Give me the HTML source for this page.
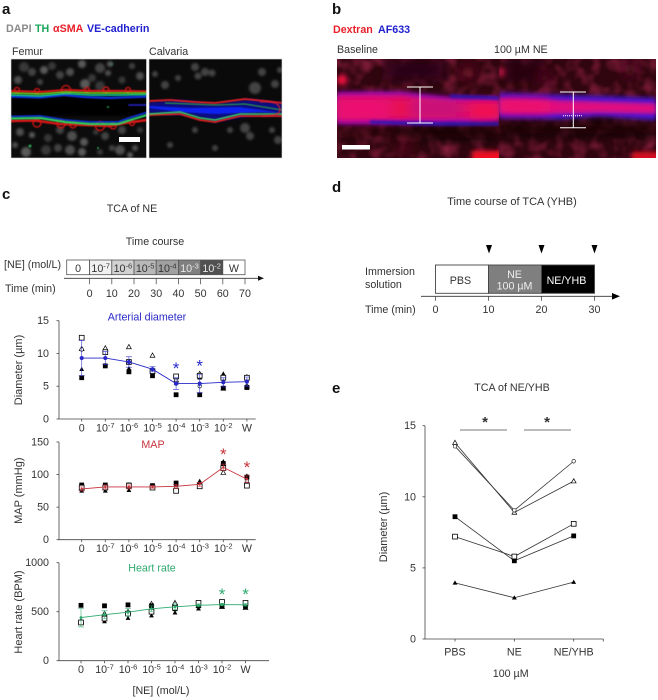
<!DOCTYPE html>
<html lang="en">
<head>
<meta charset="utf-8">
<title>TCA of NE figure</title>
<style>
html,body{margin:0;padding:0;background:#fff;width:658px;height:700px;overflow:hidden}
svg{display:block}
text{font-family:"Liberation Sans",sans-serif;fill:#333;font-size:10.7px}
.pl{font-weight:bold;font-size:15px;fill:#111}
.b{font-weight:bold}
</style>
</head>
<body>
<svg id="fig" xmlns="http://www.w3.org/2000/svg" width="658" height="700" viewBox="0 0 658 700">
<defs>
<filter id="b05" filterUnits="userSpaceOnUse" x="0" y="0" width="658" height="200"><feGaussianBlur stdDeviation="0.5"/></filter>
<filter id="b1" filterUnits="userSpaceOnUse" x="0" y="0" width="658" height="200"><feGaussianBlur stdDeviation="1.3"/></filter>
<filter id="b2" filterUnits="userSpaceOnUse" x="0" y="0" width="658" height="200"><feGaussianBlur stdDeviation="2.5"/></filter>
<filter id="b4" filterUnits="userSpaceOnUse" x="0" y="0" width="658" height="200"><feGaussianBlur stdDeviation="6"/></filter>
<filter id="mottle" filterUnits="userSpaceOnUse" x="337" y="59" width="319" height="99"><feTurbulence type="fractalNoise" baseFrequency="0.07" numOctaves="2" seed="4"/><feColorMatrix type="matrix" values="0 0 0 0 0.55  0 0 0 0 0.03  0 0 0 0 0.12  1.6 0 0 0 -0.65"/></filter>
<clipPath id="c1"><rect x="11" y="59" width="135.500" height="99"/></clipPath>
<clipPath id="c2"><rect x="149" y="59" width="133" height="99"/></clipPath>
<clipPath id="c3"><rect x="337" y="59" width="162" height="99"/></clipPath>
<clipPath id="c4"><rect x="499" y="59" width="157" height="99"/></clipPath>
</defs>

<!-- panel a -->
<text class="pl" x="2" y="14">a</text>
<text class="b" x="6" y="32" style="fill:#8a8a8a">DAPI</text>
<text class="b" x="35" y="32" style="fill:#1aa55a">TH</text>
<text class="b" x="53" y="32" style="fill:#e8202a">αSMA</text>
<text class="b" x="87" y="32" style="fill:#2020d0">VE-cadherin</text>
<text x="12" y="55">Femur</text>
<text x="149" y="55">Calvaria</text>

<g clip-path="url(#c1)">
<rect x="11" y="59" width="136" height="99" fill="#0c0c0c"/>
<g id="femurNuclei" filter="url(#b1)" fill="#626262"></g>
<rect x="11" y="97" width="136" height="19" fill="#050505" filter="url(#b1)"/>
<g fill="none" stroke="#d81818" stroke-width="1.300" filter="url(#b05)">
<circle cx="66" cy="90" r="4.500"/><circle cx="17" cy="90" r="2.500"/><circle cx="37" cy="91" r="2.500"/><circle cx="87" cy="90" r="2.500"/><circle cx="106" cy="90" r="3"/><circle cx="128" cy="90" r="2.500"/>
<circle cx="37" cy="123" r="4"/><circle cx="61" cy="124" r="4"/><circle cx="73" cy="125" r="3"/><circle cx="100" cy="126" r="4.500"/><circle cx="113" cy="126" r="3"/><circle cx="132" cy="123" r="2.500"/>
</g>
<g fill="none" stroke-linejoin="round" stroke-linecap="round">
<path d="M11 91 L40 92 L66 90 L90 91 L120 91 L147 91.500" stroke="#d81818" stroke-width="2.200" filter="url(#b05)"/>
<path d="M11 96.500 L40 97.500 L64 95 L85 97 L110 98 L147 96.500" stroke="#1030e0" stroke-width="2.200" filter="url(#b05)"/>
<path d="M11 95 L40 96 L66 93.500 L90 95 L120 95 L147 94.500" stroke="#18d8a0" stroke-width="1.500" filter="url(#b05)"/>
<path d="M11 93 L40 94 L66 92 L90 93 L120 93 L147 93" stroke="#70e020" stroke-width="1.400" filter="url(#b05)"/>
<path d="M11 121 L35 120.500 L60 124 L85 125 L110 126 L125 123 L147 120" stroke="#d81818" stroke-width="2.500" filter="url(#b05)"/>
<path d="M11 116.500 L40 116 L65 120 L90 122 L118 122 L132 117 L147 112.500" stroke="#1030e0" stroke-width="1.800" filter="url(#b05)"/>
<path d="M11 118.500 L40 118 L65 122 L90 124 L118 124 L132 119.500 L147 115" stroke="#30d060" stroke-width="2.200" filter="url(#b05)"/>
<path d="M129 105 L147 105" stroke="#1a1aa0" stroke-width="2" filter="url(#b05)"/>
</g>
<g fill="#2aa050" filter="url(#b05)"><circle cx="30" cy="146" r="1.500"/><circle cx="112" cy="64" r="0.800"/><circle cx="108" cy="107" r="1"/><circle cx="98" cy="148" r="1"/></g>
<rect x="119" y="137" width="21" height="5" fill="#fff"/>
</g>

<g clip-path="url(#c2)">
<rect x="149" y="59" width="133" height="99" fill="#0a0a0a"/>
<g id="calvariaNuclei" filter="url(#b1)" fill="#5c5c5c"></g>
<path d="M149 102 L180 100 L215 104 L250 99 L282 103 L282 115 L250 116 L215 122 L190 115 L149 114 Z" fill="#0c1080" filter="url(#b1)"/>
<path d="M149 106 L190 108 L240 107 L282 113 L260 112 L215 114 L180 112 L149 108 Z" fill="#1020f0" filter="url(#b05)"/>
<g fill="none" stroke-linejoin="round">
<path d="M149 101 L170 100 L195 102 L215 103 L245 99 L265 101 L282 103" stroke="#e82020" stroke-width="1.800" filter="url(#b05)"/>
<path d="M165 103 L190 104 L215 105 L245 104 L282 110" stroke="#30b040" stroke-width="1" filter="url(#b05)"/>
<path d="M149 115 L180 114 L200 120 L215 122 L240 116 L282 116" stroke="#e82020" stroke-width="1.800" filter="url(#b05)"/>
<path d="M149 114 L180 112 L200 118 L215 120 L240 114 L282 114" stroke="#40d060" stroke-width="1.500" filter="url(#b05)"/>
<path d="M260 102 Q280 100 280 110 Q280 116 262 116" stroke="#d02030" stroke-width="1.200" filter="url(#b05)"/>
</g>
</g>
<rect x="11" y="59" width="135.500" height="99" fill="none" stroke="#ddd" stroke-width="0.600"/>
<rect x="149" y="59" width="133" height="99" fill="none" stroke="#ddd" stroke-width="0.600"/>

<!-- panel b -->
<text class="pl" x="332" y="14">b</text>
<text class="b" x="333" y="33" style="fill:#e8202a">Dextran</text>
<text class="b" x="378" y="33" style="fill:#2020d0">AF633</text>
<text x="337" y="53">Baseline</text>
<text x="494" y="53">100 µM NE</text>

<g clip-path="url(#c3)">
<rect x="337" y="59" width="162" height="99" fill="#30050f"/>
<rect x="337" y="59" width="162" height="99" fill="#000" filter="url(#mottle)" opacity="0.7"/>
<g filter="url(#b4)">
<rect x="385" y="60" width="60" height="20" fill="#2a0412"/>
<rect x="400" y="126" width="99" height="12" fill="#0a0006"/>
<rect x="337" y="128" width="70" height="6" fill="#1a020c"/>
<circle cx="468" cy="72" r="7" fill="#6a0e24"/>
<circle cx="405" cy="150" r="5" fill="#6a0c20"/>
</g>
<circle cx="342" cy="80" r="5" fill="#f01040" filter="url(#b2)"/>
<rect x="472" y="151" width="32" height="12" fill="#f01020" filter="url(#b2)"/>
<path d="M337 92 L400 92 L450 97 L499 97 L499 122 L440 124 L400 124 L337 124 Z" fill="#8a10d0" filter="url(#b2)"/>
<path d="M337 95 L400 95 L450 100 L499 100 L499 119 L440 120 L400 120 L337 121 Z" fill="#d8106c" filter="url(#b2)"/>
<g filter="url(#b4)"><rect x="337" y="100" width="52" height="18" fill="#f01072"/><rect x="392" y="101" width="18" height="15" fill="#f01046"/><rect x="470" y="104" width="30" height="14" fill="#f8104c"/><rect x="410" y="103" width="50" height="10" fill="#c01480"/></g>
<path d="M370 122 L440 124 L499 124" stroke="#2a18b0" stroke-width="3" fill="none" filter="url(#b1)"/>
<path d="M450 96 L499 98" stroke="#2a18b0" stroke-width="3" fill="none" filter="url(#b1)"/>
</g>
<g clip-path="url(#c4)">
<rect x="499" y="59" width="157" height="99" fill="#30050f"/>
<rect x="499" y="59" width="157" height="99" fill="#000" filter="url(#mottle)" opacity="0.7"/>
<g filter="url(#b4)">
<rect x="505" y="60" width="40" height="22" fill="#260310"/>
<rect x="499" y="123" width="157" height="11" fill="#0a0006"/>
<circle cx="545" cy="78" r="6" fill="#5c0c26"/>
<circle cx="630" cy="70" r="7" fill="#5c0c26"/>
</g>
<circle cx="501" cy="72" r="4" fill="#b01040" filter="url(#b2)"/>
<rect x="632" y="152" width="30" height="10" fill="#d81020" filter="url(#b2)"/>
<path d="M499 93 L560 95 L656 98 L656 120 L600 116 L560 119 L499 118 Z" fill="#3c18e0" filter="url(#b2)"/>
<path d="M499 98 L560 100 L656 103 L656 114 L600 113 L560 114 L499 114 Z" fill="#e01080" filter="url(#b2)"/>
<rect x="500" y="100" width="50" height="12" fill="#f01068" filter="url(#b4)"/>
</g>
<g stroke="#fff" stroke-width="1" fill="none">
<path d="M407 87H433M420 87V123M407 123H433"/>
<path d="M560 92H586M573.300 92V127.700M560 127.700H586"/>
<path d="M563 115.700H583" stroke-dasharray="1 1"/>
</g>
<rect x="342" y="145" width="28" height="4.500" fill="#fff"/>

<!-- panel c fixed text -->
<text class="pl" x="2" y="199">c</text>
<text x="132" y="212" text-anchor="middle">TCA of NE</text>
<text x="155" y="245" text-anchor="middle">Time course</text>
<text x="4" y="268">[NE] (mol/L)</text>
<text x="5" y="292">Time (min)</text>
<g id="cTimeline"></g>
<g id="cCharts"></g>
<text x="161" y="694" text-anchor="middle">[NE] (mol/L)</text>

<!-- panel d -->
<text class="pl" x="332" y="192">d</text>
<text x="512" y="205" text-anchor="middle" style="font-size:11px">Time course of TCA (YHB)</text>
<text x="365" y="275">Immersion</text>
<text x="365" y="288">solution</text>
<text x="365" y="313">Time (min)</text>
<g id="dTimeline"></g>

<!-- panel e -->
<text class="pl" x="332" y="393">e</text>
<text x="512" y="391" text-anchor="middle">TCA of NE/YHB</text>
<g id="eChart"></g>
</svg>

<script>
/* ---------- panel c data ---------- */
var concCategories = ['0','10-7','10-6','10-5','10-4','10-3','10-2','W'];
var timeTicks = [0,10,20,30,40,50,60,70];
var diameterTicks = [0,5,10,15];
var mapTicks = [0,50,100,150];
var hrTicks = [0,500,1000];

var diameterOpenSquare = [12.4,10.2,8.7,7.3,6.5,6.6,6.3,6.3];
var diameterOpenTriangle = [10.7,10.8,11.0,9.7,5.9,6.9,4.7,5.0];
var diameterOpenCircle = [10.6,10.3,8.7,7.3,5.9,5.0,4.7,5.0];
var diameterFilledTriangle = [7.6,8.2,7.7,7.5,5.5,6.3,6.9,6.5];
var diameterFilledSquare = [6.3,8.1,7.2,6.6,3.7,3.7,4.7,4.8];
var diameterMean = [9.3,9.3,8.7,7.6,5.4,5.4,5.6,5.7];
var diameterSem = [2.7,1.0,0.8,0.4,0.9,1.4,0.7,0.7];
var diameterStars = [null,null,null,null,8.4,8.75,null,null];

var mapOpenSquare = [80,80,83,80,75,82,110,83];
var mapOpenTriangle = [80,80,83,82,80,82,103,88];
var mapOpenCircle = [80,80,82,80,80,83,112,90];
var mapFilledTriangle = [75,75,76,80,84,90,120,98];
var mapFilledSquare = [84,84,84,83,87,85,117,96];
var mapMean = [78,81,81,81,82,85,111,93];
var mapSem = [3,3,3,2,3,3,5,5];
var mapStars = [null,null,null,null,null,null,137.7,118];

var hrOpenSquare = [390,430,480,500,540,590,600,590];
var hrOpenTriangle = [400,480,500,580,590,560,550,540];
var hrOpenCircle = [400,440,490,560,580,580,560,550];
var hrFilledTriangle = [400,400,435,460,490,530,560,545];
var hrFilledSquare = [565,560,570,560,530,560,560,560];
var hrMean = [440,470,495,530,550,565,573,570];
var hrSem = [95,40,40,30,30,15,12,12];
var hrStars = [null,null,null,null,null,null,720,720];

/* ---------- panel c timeline data ---------- */
var doseLabels = ['0','10-7','10-6','10-5','10-4','10-3','10-2','W'];
var doseShades = ['#ffffff','#f0f0f0','#d2d2d2','#b8b8b8','#a0a0a0','#808080','#505050','#ffffff'];

/* ---------- panel d data ---------- */
var solutionStarts = [0,10,20];
var solutionEnds = [10,20,30];
var solutionFills = ['#ffffff','#7f7f7f','#000000'];
var immersionTicks = [0,10,20,30];
var measureTimes = [10,20,30];

/* ---------- panel e data ---------- */
var yhbCategories = ['PBS','NE','NE/YHB'];
var yhbTicks = [0,5,10,15];
var yhbOpenTriangle = [13.8,8.9,11.1];
var yhbOpenCircle = [13.55,9.05,12.5];
var yhbFilledSquare = [8.6,5.5,7.25];
var yhbOpenSquare = [7.2,5.8,8.1];
var yhbFilledTriangle = [3.95,2.9,4.0];

var NS = 'http://www.w3.org/2000/svg';
function mk(parent, tag, attrs) {
  var el = document.createElementNS(NS, tag);
  for (var k in attrs) el.setAttribute(k, attrs[k]);
  parent.appendChild(el);
  return el;
}
function label(parent, x, y, str, anchor, fill, size) {
  var t = mk(parent, 'text', {x:x, y:y, 'text-anchor':anchor || 'middle'});
  if (fill) t.style.fill = fill;
  if (size) t.style.fontSize = size + 'px';
  var m = /^10(-\d)$/.exec(str);
  if (m) {
    t.appendChild(document.createTextNode('10'));
    var s = mk(t, 'tspan', {dy:-3.5});
    s.style.fontSize = '7.5px';
    s.textContent = m[1];
  } else {
    t.textContent = str;
  }
  return t;
}
function marker(parent, kind, x, y) {
  var el;
  var open = kind.indexOf('open') === 0;
  var fill = open ? '#fff' : '#000';
  if (kind.indexOf('Square') > 0) {
    el = mk(parent, 'rect', {x:x-2.4, y:y-2.4, width:4.8, height:4.8, fill:fill, stroke:'#000', 'stroke-width':open?0.8:0});
  } else if (kind.indexOf('Triangle') > 0) {
    el = mk(parent, 'path', {d:'M'+x+' '+(y-2.5)+'L'+(x+2.4)+' '+(y+1.8)+'L'+(x-2.4)+' '+(y+1.8)+'Z', fill:fill, stroke:'#000', 'stroke-width':open?0.7:0});
  } else {
    el = mk(parent, 'circle', {cx:x, cy:y, r:1.8, fill:fill, stroke:'#000', 'stroke-width':0.6});
  }
  
  
  return el;
}

/* ---------- time course charts ---------- */
function timeChart(cfg) {
  var g = mk(document.getElementById('cCharts'), 'g', {});
  
  
  var maxV = cfg.ticks[cfg.ticks.length-1];
  var sy = function(v){ return cfg.y0 + (cfg.y1 - cfg.y0) * v / maxV; };
  var sx = function(i){ return cfg.x0 + cfg.step * i; };
  mk(g, 'path', {d:'M59 '+sy(maxV)+'V'+cfg.y0+'H'+cfg.axisEnd, stroke:'#444', 'stroke-width':0.8, fill:'none'});
  cfg.ticks.forEach(function(v){
    mk(g, 'path', {d:'M56.500 '+sy(v)+'H59', stroke:'#444', 'stroke-width':0.8});
    var t = label(g, 49, sy(v)+3.5, String(v), 'end');
    
    
  });
  concCategories.forEach(function(c,i){
    mk(g, 'path', {d:'M'+sx(i)+' '+cfg.y0+'v2.500', stroke:'#444', 'stroke-width':0.8});
    var t = label(g, sx(i), cfg.labelY, c);
    
    
  });
  var yt = label(g, 0, 0, cfg.yTitle, 'middle', null, 11);
  yt.setAttribute('transform', 'translate(22,'+cfg.yTitleY+') rotate(-90)');
  
  
  var tt = label(g, cfg.titleX, cfg.titleY, cfg.title, 'middle', cfg.color);
  
  
  var order = ['openTriangle','openCircle','filledTriangle','filledSquare','openSquare'];
  order.forEach(function(k){
    cfg.series[k].forEach(function(v,i){ marker(g, k, sx(i), sy(v)); });
  });
  cfg.sem.forEach(function(e,i){
    var x = sx(i);
    var a = sy(cfg.mean[i]-e), b = sy(cfg.mean[i]+e);
    mk(g, 'path', {d:'M'+x+' '+a+'V'+b+'M'+(x-3)+' '+a+'h6M'+(x-3)+' '+b+'h6', stroke:cfg.color, 'stroke-width':0.7, fill:'none', opacity:0.8});
  });
  var pts = cfg.mean.map(function(v,i){ return sx(i)+','+sy(v); }).join(' ');
  var line = mk(g, 'polyline', {points:pts, fill:'none', stroke:cfg.color, 'stroke-width':0.9});
  
  
  cfg.mean.forEach(function(v,i){
    var c = mk(g, 'circle', {cx:sx(i), cy:sy(v), r:cfg.dot, fill:cfg.color});
    
    
  });
  cfg.stars.forEach(function(v,i){
    if (v === null) return;
    var s = mk(g, 'text', {x:sx(i), y:sy(v)+10, 'text-anchor':'middle'});
    s.style.fill = cfg.color;
    s.style.fontSize = '17px';
    s.textContent = '*';
    
    
  });
}
timeChart({name:'diameter-chart', y0:419, y1:320.7, x0:81.7, step:23.6, axisEnd:255.7, labelY:431.7,
  ticks:diameterTicks, yTitle:'Diameter (µm)', yTitleY:370, title:'Arterial diameter', titleX:147, titleY:320.7,
  color:'#2a2ac8', dot:2.1, mean:diameterMean, sem:diameterSem, stars:diameterStars,
  series:{openSquare:diameterOpenSquare, openTriangle:diameterOpenTriangle, openCircle:diameterOpenCircle, filledTriangle:diameterFilledTriangle, filledSquare:diameterFilledSquare}});
timeChart({name:'map-chart', y0:539.7, y1:442, x0:81.7, step:23.6, axisEnd:255.7, labelY:552,
  ticks:mapTicks, yTitle:'MAP (mmHg)', yTitleY:490.7, title:'MAP', titleX:153, titleY:448,
  color:'#c8323c', dot:1.2, mean:mapMean, sem:mapSem, stars:mapStars,
  series:{openSquare:mapOpenSquare, openTriangle:mapOpenTriangle, openCircle:mapOpenCircle, filledTriangle:mapFilledTriangle, filledSquare:mapFilledSquare}});
timeChart({name:'heart-rate-chart', y0:660.7, y1:562.7, x0:81, step:23.5, axisEnd:269, labelY:673,
  ticks:hrTicks, yTitle:'Heart rate (BPM)', yTitleY:612, title:'Heart rate', titleX:152, titleY:571.7,
  color:'#2eaa6e', dot:1.4, mean:hrMean, sem:hrSem, stars:hrStars,
  series:{openSquare:hrOpenSquare, openTriangle:hrOpenTriangle, openCircle:hrOpenCircle, filledTriangle:hrFilledTriangle, filledSquare:hrFilledSquare}});

/* ---------- panel c timeline ---------- */
(function(){
  var g = document.getElementById('cTimeline');
  var sx = function(t){ return 89.6 + t * 2.22; };
  doseLabels.forEach(function(d,i){
    var x0 = i === 0 ? 66.7 : sx((i-1)*10);
    var x1 = sx(i*10);
    var r = mk(g, 'rect', {x:x0, y:260, width:x1-x0, height:14.7, fill:doseShades[i], stroke:'#555', 'stroke-width':0.8});
    
    
    var dark = (i === 5 || i === 6);
    var t = label(g, (x0+x1)/2, 272, d, 'middle', dark ? '#e8e8e8' : '#333');
    
    
  });
  mk(g, 'path', {d:'M64 278.300H258', stroke:'#333', 'stroke-width':0.9});
  mk(g, 'path', {d:'M258 275.800L264 278.300L258 280.800Z', fill:'#111'});
  timeTicks.forEach(function(v){
    mk(g, 'path', {d:'M'+sx(v)+' 278.300v6', stroke:'#555', 'stroke-width':0.8});
    var t = label(g, sx(v), 297, String(v));
    
    
  });
})();

/* ---------- panel d timeline ---------- */
(function(){
  var g = document.getElementById('dTimeline');
  var sx = function(t){ return 435.5 + t * 5.3; };
  solutionStarts.forEach(function(s,i){
    var r = mk(g, 'rect', {x:sx(s), y:265, width:sx(solutionEnds[i])-sx(s), height:28.3, fill:solutionFills[i], stroke:'#444', 'stroke-width':0.9});
    
    
  });
  label(g, 460.5, 284, 'PBS');
  label(g, 514.5, 278, 'NE', 'middle', '#eee');
  label(g, 514.5, 289.5, '100 µM', 'middle', '#eee');
  label(g, 566.5, 284, 'NE/YHB', 'middle', '#fff');
  mk(g, 'path', {d:'M421 296.300H613', stroke:'#333', 'stroke-width':0.9});
  mk(g, 'path', {d:'M612 293L620 296.300L612 299.600Z', fill:'#000'});
  immersionTicks.forEach(function(v){
    mk(g, 'path', {d:'M'+sx(v)+' 296.300v4.500', stroke:'#444', 'stroke-width':0.8});
    var t = label(g, sx(v), 313, String(v));
    
    
  });
  measureTimes.forEach(function(v){
    var x = sx(v) + (v === 10 ? 0.5 : 0);
    var a = mk(g, 'path', {d:'M'+(x-3)+' 245H'+(x+3)+'L'+x+' 253.500Z', fill:'#000'});
    
    
  });
})();

/* ---------- panel e ---------- */
(function(){
  var g = document.getElementById('eChart');
  var sy = function(v){ return 639 - v * (639-425.7) / 15; };
  var sx = function(i){ return 455 + i * 59.35; };
  mk(g, 'path', {d:'M425 425.700V639H603.300', stroke:'#444', 'stroke-width':0.8, fill:'none'});
  yhbTicks.forEach(function(v){
    mk(g, 'path', {d:'M422.500 '+sy(v)+'H425', stroke:'#444', 'stroke-width':0.8});
    var t = label(g, 416, sy(v)+3.5, String(v), 'end');
    
    
  });
  yhbCategories.forEach(function(c,i){
    mk(g, 'path', {d:'M'+sx(i)+' 639v2.500', stroke:'#444', 'stroke-width':0.8});
    var t = label(g, sx(i), 655.7, c);
    
    
  });
  mk(g, 'path', {d:'M603.300 639v2.500', stroke:'#444', 'stroke-width':0.8});
  var yt = label(g, 0, 0, 'Diameter (µm)', 'middle', null, 11);
  yt.setAttribute('transform', 'translate(387,527) rotate(-90)');
  
  
  var xt = label(g, 510.7, 677, '100 µM');
  
  
  var series = [['openTriangle',yhbOpenTriangle],['openCircle',yhbOpenCircle],['filledSquare',yhbFilledSquare],['openSquare',yhbOpenSquare],['filledTriangle',yhbFilledTriangle]];
  series.forEach(function(s){
    var pts = s[1].map(function(v,i){ return sx(i)+','+sy(v); }).join(' ');
    var line = mk(g, 'polyline', {points:pts, fill:'none', stroke:'#333', 'stroke-width':0.8});
    
    
  });
  series.forEach(function(s){
    s[1].forEach(function(v,i){ marker(g, s[0], sx(i), sy(v)); });
  });
  mk(g, 'path', {d:'M460 430H507M524 430H571', stroke:'#777', 'stroke-width':1});
  [485,547].forEach(function(x){
    var s = mk(g, 'text', {x:x, y:427, 'text-anchor':'middle'});
    s.style.fontSize = '15px';
    s.style.fontWeight = 'bold';
    s.textContent = '*';
    
    
  });
})();

/* ---------- decorative nuclei in the micrographs ---------- */
(function(){
  var f = document.getElementById('femurNuclei');
  var femurSpots = [[24,67,5],[32,72,4],[18,80,4],[44,70,4],[52,66,4],[60,75,4],[70,72,4],[82,64,4],[92,78,4],[100,68,5],[108,73,3],[110,64,3],[122,80,3.500],[132,66,3],[140,76,4],[85,84,5],[100,86,5],[40,82,3],
    [20,132,4],[32,135,3],[48,138,4],[60,130,4],[72,136,5],[84,142,4],[96,132,3],[105,136,4],[15,145,3],[26,152,5],[46,150,5],[58,148,4],[70,150,5],[82,152,4],[100,152,3],[112,148,3],[120,150,5],[130,155,3],[140,130,3],[122,130,4],[135,148,3]];
  femurSpots.forEach(function(s,i){ mk(f, 'circle', {cx:s[0], cy:s[1], r:s[2], opacity:0.5 + (i % 4) * 0.13}); });
  var c = document.getElementById('calvariaNuclei');
  var spots = [[195,67,4],[205,72,4],[212,73,3.5],[198,76,3.5],[255,88,6],[262,72,4],[275,84,4],[280,70,3],[165,85,4],[178,78,3],[245,128,5],[250,136,4],[230,130,3],[278,140,4],[272,130,3],[195,130,3],[170,145,3],[215,148,3],[155,74,3]];
  spots.forEach(function(s){ mk(c, 'circle', {cx:s[0], cy:s[1], r:s[2], opacity:0.7}); });
})();
</script>
</body>
</html>
